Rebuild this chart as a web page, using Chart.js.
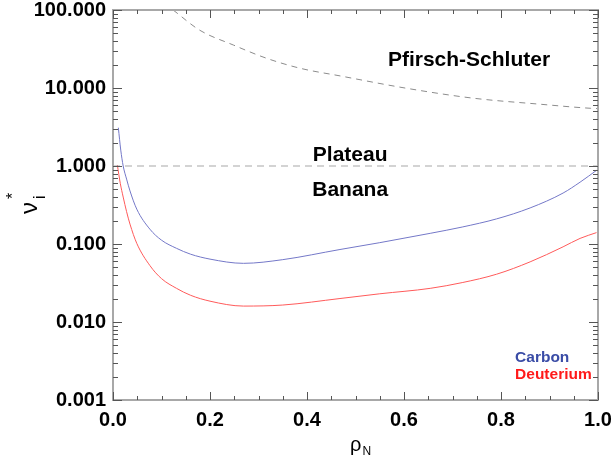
<!DOCTYPE html>
<html>
<head>
<meta charset="utf-8">
<script src="https://cdn.jsdelivr.net/npm/chart.js@4"></script>
<style>body{margin:0;background:#fff}</style>
</head>
<body>
<canvas id="myChart" width="613" height="458"></canvas>
<script>
// values
const rhoCarbon = [0.011, 0.016, 0.021, 0.028, 0.035, 0.049, 0.076, 0.10, 0.131, 0.16, 0.20, 0.269, 0.35, 0.468, 0.55, 0.654, 0.72, 0.791, 0.86, 0.928, 0.963, 0.997];
const nuCarbon = [3.1, 1.6, 1.0, 0.68, 0.48, 0.28, 0.155, 0.112, 0.088, 0.074, 0.064, 0.0565, 0.063, 0.085, 0.104, 0.137, 0.165, 0.21, 0.29, 0.45, 0.62, 0.88];

const rhoDeut = [0.009, 0.015, 0.021, 0.028, 0.035, 0.049, 0.076, 0.10, 0.131, 0.16, 0.20, 0.269, 0.35, 0.468, 0.55, 0.654, 0.72, 0.791, 0.86, 0.928, 0.963, 0.997];
const nuDeut = [1.03, 0.60, 0.40, 0.26, 0.18, 0.102, 0.053, 0.036, 0.027, 0.022, 0.0185, 0.016, 0.0165, 0.020, 0.023, 0.027, 0.032, 0.041, 0.059, 0.092, 0.118, 0.14];

const rhoPS = [0.124, 0.179, 0.248, 0.317, 0.386, 0.468, 0.606, 0.743, 0.880, 0.984, 1.0];
const nuPS = [100, 55, 35.6, 24, 17.9, 14.3, 9.9, 7.4, 6.2, 5.5, 5.45];

const rhoPlateau = [0, 1];
const nuPlateau = [1, 1];

const xTicks = [0, 0.2, 0.4, 0.6, 0.8, 1.0];
const yTicks = [0.001, 0.01, 0.1, 1, 10, 100];

const seriesNames = ["Carbon", "Deuterium"];
const regionNames = ["Pfirsch-Schluter", "Plateau", "Banana"];

function toPoints(xs, ys) {
  return xs.map((x, i) => ({ x: x, y: ys[i] }));
}

const FONT = "'Liberation Sans', Arial, Helvetica, sans-serif";

const frame = {
  id: "frame",
  afterDraw(chart) {
    const ctx = chart.ctx;
    const a = chart.chartArea;
    const xs = chart.scales.x;
    const ys = chart.scales.y;
    ctx.save();

    // box round the plot
    ctx.strokeStyle = "#a8a8a8";
    ctx.lineWidth = 2;
    ctx.strokeRect(a.left, a.top, a.right - a.left, a.bottom - a.top);

    // inward ticks, x
    ctx.strokeStyle = "#555";
    ctx.lineWidth = 1;
    for (let k = 0; k <= 20; k++) {
      const v = k * 0.05;
      const px = Math.round(xs.getPixelForValue(v)) + 0.5;
      const len = k % 4 === 0 ? 8 : 4;
      ctx.beginPath();
      ctx.moveTo(px, a.bottom); ctx.lineTo(px, a.bottom - len);
      ctx.moveTo(px, a.top); ctx.lineTo(px, a.top + len);
      ctx.stroke();
    }
    // inward ticks, y (log)
    for (let d = 0; d < yTicks.length; d++) {
      for (let m = 1; m <= 9; m++) {
        const v = yTicks[d] * m;
        if (v > 100.0001) continue;
        const py = Math.round(ys.getPixelForValue(v)) + 0.5;
        const len = m === 1 ? 9 : 5;
        ctx.beginPath();
        ctx.moveTo(a.left, py); ctx.lineTo(a.left + len, py);
        ctx.moveTo(a.right, py); ctx.lineTo(a.right - len, py);
        ctx.stroke();
      }
    }

    // region labels
    ctx.fillStyle = "#000";
    ctx.textAlign = "center";
    ctx.textBaseline = "middle";
    ctx.font = "bold 21px " + FONT;
    ctx.fillText(regionNames[0], xs.getPixelForValue(0.734), ys.getPixelForValue(23));
    ctx.fillText(regionNames[1], xs.getPixelForValue(0.489), ys.getPixelForValue(1.38));
    ctx.fillText(regionNames[2], xs.getPixelForValue(0.489), ys.getPixelForValue(0.49));

    // series labels
    ctx.textAlign = "left";
    ctx.font = "bold 15.5px " + FONT;
    ctx.fillStyle = "#3a4ca6";
    ctx.fillText(seriesNames[0], xs.getPixelForValue(0.829), ys.getPixelForValue(0.0035));
    ctx.fillStyle = "#ff1a1a";
    ctx.fillText(seriesNames[1], xs.getPixelForValue(0.829), ys.getPixelForValue(0.0021));

    // x title: rho_N
    ctx.fillStyle = "#000";
    ctx.textAlign = "left";
    ctx.textBaseline = "alphabetic";
    ctx.font = "20px " + FONT;
    ctx.fillText("\u03c1", 350, 451);
    const rw = ctx.measureText("\u03c1").width;
    ctx.font = "12px " + FONT;
    ctx.fillText("N", 350 + rw + 1, 455);

    // y title: nu_i^*
    ctx.translate(37, 214);
    ctx.rotate(-Math.PI / 2);
    ctx.font = "24px " + FONT;
    ctx.fillText("\u03bd", 0, 0);
    const nw = ctx.measureText("\u03bd").width;
    ctx.font = "16px " + FONT;
    ctx.fillText("i", nw + 3, 8);
    ctx.fillText("*", nw + 3, -19);
    ctx.restore();
  }
};

const tickFont = { family: FONT, size: 20, weight: "bold" };

new Chart(document.getElementById("myChart").getContext("2d"), {
  type: "line",
  data: {
    datasets: [
      {
        label: "Pfirsch-Schluter",
        data: toPoints(rhoPS, nuPS),
        borderColor: "#8c8c8c",
        borderWidth: 1,
        borderDash: [6, 5],
        pointRadius: 0,
        cubicInterpolationMode: "monotone",
      },
      {
        label: "Plateau",
        data: toPoints(rhoPlateau, nuPlateau),
        borderColor: "#a8a8a8",
        borderWidth: 1.2,
        borderDash: [7, 5],
        pointRadius: 0,
      },
      {
        label: seriesNames[0],
        data: toPoints(rhoCarbon, nuCarbon),
        borderColor: "#7478c8",
        borderWidth: 1,
        pointRadius: 0,
        cubicInterpolationMode: "monotone",
      },
      {
        label: seriesNames[1],
        data: toPoints(rhoDeut, nuDeut),
        borderColor: "#ff5a5a",
        borderWidth: 1,
        pointRadius: 0,
        cubicInterpolationMode: "monotone",
      },
    ],
  },
  options: {
    responsive: false,
    animation: false,
    layout: { padding: { left: 0, top: 10, right: 15, bottom: 0 } },
    plugins: {
      legend: { display: false },
      tooltip: { enabled: false },
    },
    scales: {
      x: {
        type: "linear",
        min: 0,
        max: 1,
        afterBuildTicks(scale) {
          scale.ticks = xTicks.map((v) => ({ value: v }));
        },
        afterFit(scale) {
          scale.height = 58;
          scale.paddingLeft = 0;
          scale.paddingRight = 0;
        },
        ticks: {
          color: "#000",
          font: tickFont,
          padding: 8,
          maxRotation: 0,
          callback: (v) => Number(v).toFixed(1),
        },
        grid: { display: false, drawTicks: false },
        border: { display: false },
      },
      y: {
        type: "logarithmic",
        min: 0.001,
        max: 100,
        afterBuildTicks(scale) {
          scale.ticks = yTicks.map((v) => ({ value: v }));
        },
        afterFit(scale) {
          scale.width = 113;
          scale.paddingTop = 0;
          scale.paddingBottom = 0;
        },
        ticks: {
          color: "#000",
          font: tickFont,
          padding: 7,
          autoSkip: false,
          callback: (v) => Number(v).toFixed(3),
        },
        grid: { display: false, drawTicks: false },
        border: { display: false },
      },
    },
  },
  plugins: [frame],
});
</script>
</body>
</html>
